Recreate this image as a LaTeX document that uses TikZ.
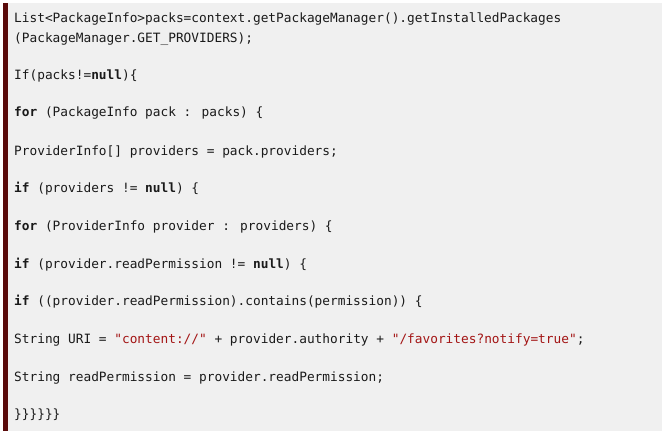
\documentclass[tikz,border=0pt]{standalone}
\usepackage{fontspec}
\newfontfamily\codefont{DejaVu Sans Mono}
\definecolor{bgray}{HTML}{F0F0F0}
\definecolor{barred}{HTML}{5A0A0A}
\definecolor{strred}{HTML}{A31515}
\definecolor{codeink}{HTML}{1A1A1A}
\newcommand{\kw}[1]{\textbf{#1}}
\newcommand{\str}[1]{\textcolor{strred}{#1}}
\begin{document}
\begin{tikzpicture}[x=1pt,y=-1pt,
  codeline/.style={anchor=base west,inner sep=0pt,text=codeink,font=\codefont\fontsize{12.8}{14}\selectfont}]
\useasboundingbox (0,0) rectangle (662,436);
\fill[white] (0,0) rectangle (662,436);
\fill[bgray] (7.5,3) rectangle (662,431);
\fill[barred] (2.5,3) rectangle (7.5,431);
\node[codeline] (l1) at (14,22.5) {List<PackageInfo>packs=context.getPackageManager().getInstalledPackages};
\node[codeline] (l2) at (14,42.5) {(PackageManager.GET\_PROVIDERS);};
\node[codeline] (l3) at (14,79.5) {If(packs!=\kw{null})\{};
\node[codeline] (l4) at (14,117) {\kw{for} (PackageInfo pack : packs) \{};
\node[codeline] (l5) at (14,155) {ProviderInfo[] providers = pack.providers;};
\node[codeline] (l6) at (14,192.5) {\kw{if} (providers != \kw{null}) \{};
\node[codeline] (l7) at (14,230) {\kw{for} (ProviderInfo provider : providers) \{};
\node[codeline] (l8) at (14,268) {\kw{if} (provider.readPermission != \kw{null}) \{};
\node[codeline] (l9) at (14,305.5) {\kw{if} ((provider.readPermission).contains(permission)) \{};
\node[codeline] (l10) at (14,343) {String URI = \str{"content://"} + provider.authority + \str{"/favorites?notify=true"};};
\node[codeline] (l11) at (14,381) {String readPermission = provider.readPermission;};
\node[codeline] (l12) at (14,418.5) {\}\}\}\}\}\}};
\end{tikzpicture}
\end{document}
